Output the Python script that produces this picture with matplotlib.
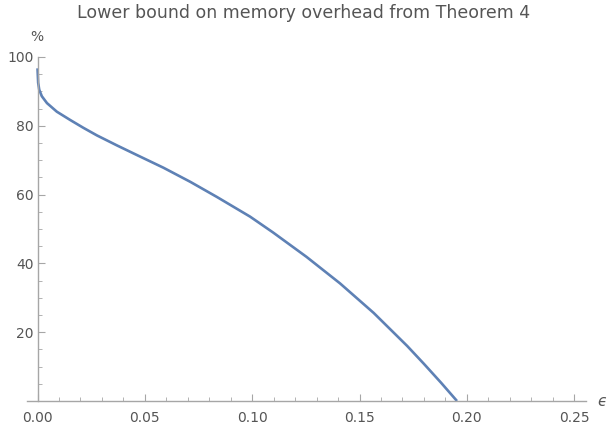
import matplotlib
matplotlib.use("Agg")
import matplotlib.pyplot as plt
from matplotlib.ticker import MultipleLocator

plt.rcParams["font.family"] = ["DejaVu Sans"]

# values
eps = [0.0, 0.0003, 0.0008, 0.0020, 0.0044, 0.0090, 0.0152, 0.0214,
       0.0277, 0.0370, 0.0463, 0.0587, 0.0712, 0.0836, 0.0990, 0.1097,
       0.1253, 0.1409, 0.1566, 0.1722, 0.1800, 0.1880, 0.1954]
overhead = [96.7, 92.5, 90.5, 88.6, 86.6, 84.1, 81.7, 79.4,
            77.2, 74.3, 71.5, 67.8, 63.7, 59.3, 53.6, 49.0,
            41.9, 34.2, 25.6, 16.0, 10.8, 5.3, 0.0]

y_ticks = [20, 40, 60, 80, 100]
x_ticks = [0.00, 0.05, 0.10, 0.15, 0.20, 0.25]

LINE = "#5E81B5"
AXIS = "#A6A6A6"
TEXT = "#555555"

fig = plt.figure(figsize=(6.08, 4.34), dpi=100)
ax = fig.add_axes([27 / 608, 1 - 401 / 434, (586 - 27) / 608, (401 - 57) / 434])

ax.plot(eps, overhead, color=LINE, lw=1.9, solid_capstyle="butt",
        solid_joinstyle="round", clip_on=False)

ax.set_xlim(-0.0049, 0.2555)
ax.set_ylim(0, 100)

for s in ["top", "right"]:
    ax.spines[s].set_visible(False)
ax.spines["left"].set_position(("data", 0))
ax.spines["bottom"].set_position(("data", 0))
for s in ["left", "bottom"]:
    ax.spines[s].set_color(AXIS)
    ax.spines[s].set_linewidth(1.0)

ax.set_xticks(x_ticks)
ax.set_xticklabels([f"{t:.2f}" for t in x_ticks])
ax.set_yticks(y_ticks)
ax.xaxis.set_minor_locator(MultipleLocator(0.01))
ax.yaxis.set_minor_locator(MultipleLocator(5))
ax.tick_params(which="major", direction="in", length=5, width=0.8, color=AXIS,
               labelcolor=TEXT, labelsize=10)
ax.tick_params(which="minor", direction="in", length=3, width=0.6, color=AXIS)
ax.tick_params(axis="x", pad=7)
ax.tick_params(axis="y", pad=3)

fig.text(304 / 608, 1 - 18.5 / 434, "Lower bound on memory overhead from Theorem 4",
         ha="center", va="baseline", fontsize=12.5, color=TEXT)
fig.text(37 / 608, 1 - 37 / 434, "%", ha="center", va="center", fontsize=10, color=TEXT)
fig.text(602 / 608, 1 - 401 / 434, "\u03f5", ha="center", va="center", fontsize=11,
         color=TEXT, style="italic")

fig.savefig("out.png", dpi=100)
